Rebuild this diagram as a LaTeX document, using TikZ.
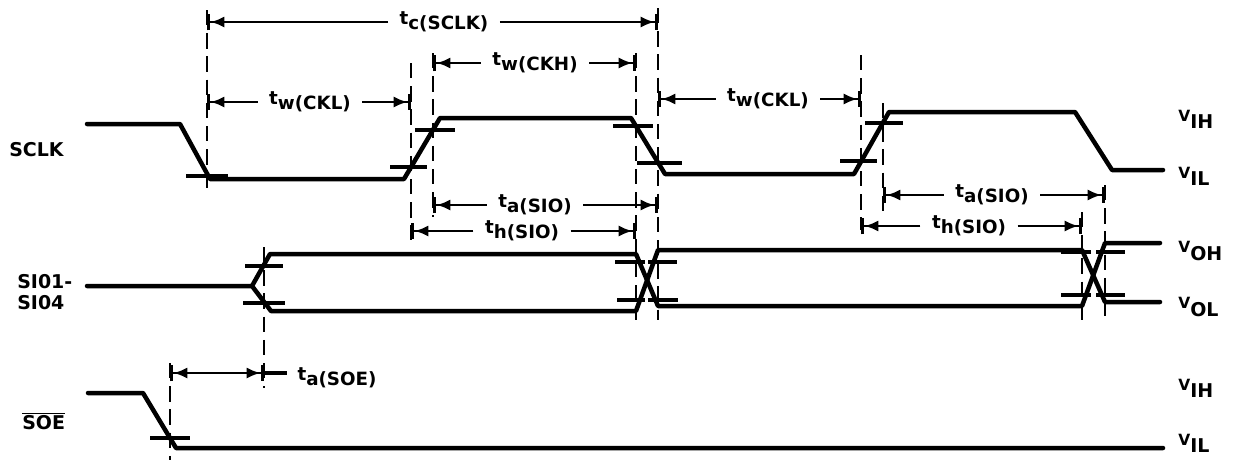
\documentclass[tikz,border=0pt]{standalone}
\usepackage{fontspec}
\setmainfont{DejaVu Sans}
\usetikzlibrary{arrows.meta}
\newcommand{\tsub}[1]{t\raisebox{-3.5pt}{#1}}
\newcommand{\vsub}[1]{{\fontsize{11}{12}\selectfont V}\raisebox{-5pt}{#1}}

\begin{document}
\begin{tikzpicture}[x=0.025cm, y=-0.025cm,
  sig/.style={line width=3.2pt, line join=round, line cap=round},
  guide/.style={line width=2.1pt, dash pattern=on 11pt off 5.5pt},
  thr/.style={line width=2.4pt},
  dim/.style={line width=1.9pt, -{Latex[length=10pt,width=8pt,sep=0pt]Bar[width=12pt,line width=2.4pt,sep=0pt]}},
  dims/.style={line width=1.9pt, {Bar[width=12pt,line width=2.4pt,sep=0pt]Latex[length=10pt,width=8pt,sep=0pt]}-{Latex[length=10pt,width=8pt,sep=0pt]Bar[width=12pt,line width=2.4pt,sep=0pt]}},
  lbl/.style={font=\fontsize{13}{13.5}\selectfont\bfseries, inner xsep=8pt, inner ysep=1pt},
  sname/.style={font=\fontsize{13.5}{15}\selectfont\bfseries, anchor=west, align=left, inner sep=0pt},
  lev/.style={font=\fontsize{13.5}{14}\selectfont\bfseries, anchor=west, inner sep=0pt}]
  \useasboundingbox (0,0) rectangle (1235,460);

  \foreach \x/\a/\b in {207/10/190, 411/63/240, 433/53/217, 636/53/320, 658/8/320, 861/55/230,
                        883/103/217, 1082/212/320, 1105/185/320, 264/247/388, 170/363/460}
    \draw[guide] (\x,\a) coordinate (g\x) -- (\x,\b);

  \draw[sig] (87,124) -- (180,124) -- (210,179) -- (404,179) -- (440,118) -- (631,118)
    -- (665,174) -- (854,174) -- (889,112) -- (1075,112) -- (1112,170) -- (1163,170);
  \draw[sig] (87,286) -- (252,286) -- (270,254) -- (636,254) -- (658,306) -- (1082,306)
    -- (1105,243) -- (1160,243);
  \draw[sig] (252,286) -- (271,311) -- (636,311) -- (658,250) -- (1082,250) -- (1105,302)
    -- (1160,302);
  \draw[sig] (88,393) -- (143,393) -- (176,448) -- (1163,448);

  \foreach \a/\b/\y in {186/228/176, 390/427/167, 415/455/130, 613/653/126, 637/682/163,
                        840/877/161, 865/903/123, 245/283/266, 243/285/303, 615/645/262,
                        648/677/262, 617/645/300, 648/678/300, 1061/1091/252, 1096/1125/252,
                        1061/1091/295, 1096/1125/295, 150/190/438, 264/287/373}
    \draw[thr] (\a,\y) -- (\b,\y);

  \node[lbl] (tc) at (444,22) {\tsub{c(SCLK)}};
  \node[lbl] (tw1) at (310,102) {\tsub{w(CKL)}};
  \node[lbl] (twh) at (535,63) {\tsub{w(CKH)}};
  \node[lbl] (tw2) at (768,99) {\tsub{w(CKL)}};
  \node[lbl] (ta1) at (535,205) {\tsub{a(SIO)}};
  \node[lbl] (th1) at (522,231) {\tsub{h(SIO)}};
  \node[lbl] (ta2) at (992,195) {\tsub{a(SIO)}};
  \node[lbl] (th2) at (969,226) {\tsub{h(SIO)}};
  \node[lbl, anchor=west] (tsoe) at (286,378) {\tsub{a(SOE)}};

  \draw[dim] (tc.west) -- (tc.west -| g207);
  \draw[dim] (tc.east) -- (tc.east -| g658);
  \draw[dim] (tw1.west) -- (tw1.west -| g207);
  \draw[dim] (tw1.east) -- (tw1.east -| g411);
  \draw[dim] (twh.west) -- (twh.west -| g433);
  \draw[dim] (twh.east) -- (twh.east -| g636);
  \draw[dim] (tw2.west) -- (tw2.west -| g658);
  \draw[dim] (tw2.east) -- (tw2.east -| g861);
  \draw[dim] (ta1.west) -- (ta1.west -| g433);
  \draw[dim] (ta1.east) -- (ta1.east -| g658);
  \draw[dim] (th1.west) -- (th1.west -| g411);
  \draw[dim] (th1.east) -- (th1.east -| g636);
  \draw[dim] (ta2.west) -- (ta2.west -| g883);
  \draw[dim] (ta2.east) -- (ta2.east -| g1105);
  \draw[dim] (th2.west) -- (th2.west -| g861);
  \draw[dim] (th2.east) -- (th2.east -| g1082);
  \coordinate (k1) at (170,373);
  \coordinate (k2) at (264,373);
  \draw[dims] (k1) -- (k2);

  \node[sname] (nsclk) at (9,150) {SCLK};
  \node[sname] (nsio) at (17,292) {SI01-\\SI04};
  \node[sname] (nsoe) at (22,421) {$\overline{\hbox{SOE}}$};

  \node[lev] (vih1) at (1178,119) {\vsub{IH}};
  \node[lev] (vil1) at (1178,176) {\vsub{IL}};
  \node[lev] (voh) at (1178,251) {\vsub{OH}};
  \node[lev] (vol) at (1178,307) {\vsub{OL}};
  \node[lev] (vih2) at (1178,388) {\vsub{IH}};
  \node[lev] (vil2) at (1178,443) {\vsub{IL}};
\end{tikzpicture}
\end{document}
